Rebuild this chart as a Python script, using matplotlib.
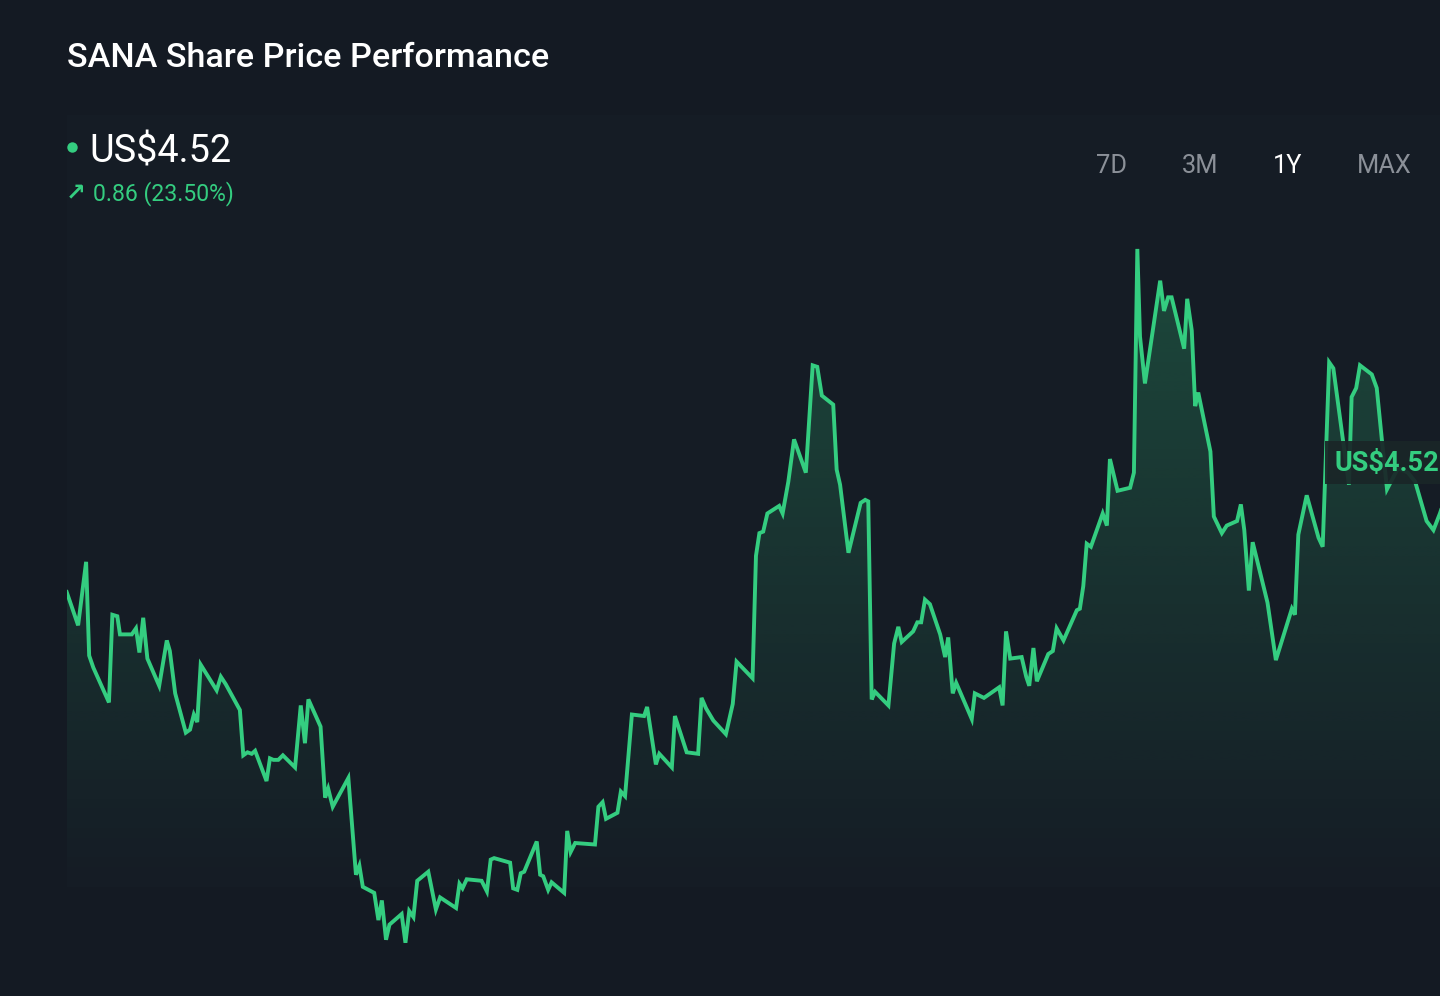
import numpy as np
import matplotlib
matplotlib.use("Agg")
import matplotlib.pyplot as plt
from matplotlib.patches import Rectangle, Polygon

# ---------------- data (trading-day index, price US$) ----------------
day = [0.0, 3.0, 5.1, 5.9, 7.0, 11.1, 12.0, 13.3, 14.0, 17.1, 18.2, 19.1, 20.1, 21.2,
       24.3, 26.3, 27.1, 28.5, 31.3, 32.4, 33.4, 34.3, 35.2, 39.4, 40.5, 41.8, 45.5,
       46.4, 47.5, 48.6, 49.5, 52.5, 53.4, 54.3, 55.6, 56.8, 60.0, 61.5, 62.6, 63.5,
       66.7, 67.9, 68.7, 69.9, 74.0,
       76.0, 76.9, 77.8, 80.8, 81.9, 82.8, 83.9, 84.8, 88.0, 89.0, 90.0, 91.1, 92.1,
       95.0, 97.0, 98.1, 102.3, 103.2, 104.0, 105.1, 109.0, 110.4, 111.4, 112.3, 116.5,
       117.3, 118.4, 119.3, 120.2, 123.5, 124.4, 125.2, 126.5, 127.4, 130.7, 131.5,
       132.4, 133.6, 138.8, 139.7, 140.8, 141.7, 144.7, 145.6, 146.7, 148.5, 151.7, 152.5,
       154.8, 155.7, 159.0, 159.8, 162.9, 165.9, 166.8, 168.0, 169.9, 173.2, 175.0,
       176.0, 180.2, 181.1, 182.0, 183.0, 184.1, 187.2, 188.1, 189.6, 191.1, 194.2,
       196.0, 197.2, 198.4, 201.4, 202.3, 203.2, 205.4, 208.6, 209.8, 210.6, 211.5,
       212.4, 215.9, 217.4, 218.5,
       219.4, 222.4, 223.5, 224.5, 225.5, 226.8, 229.5, 230.8, 231.6, 232.8, 233.7,
       237.8, 238.6, 241.0, 245.0, 245.9, 246.8, 247.9, 250.9, 252.1, 252.9, 254.0,
       254.9, 257.9, 259.1, 260.1, 261.9, 265.4, 266.2, 267.1, 268.0, 269.1, 272.2,
       273.3, 274.1, 276.1, 279.4, 280.4,
       281.3, 282.0, 283.3, 287.3, 288.3, 289.4, 290.3, 293.6, 294.4, 295.6, 296.5,
       297.3, 300.5, 301.4, 303.5, 304.8, 307.5, 308.5, 309.4, 310.6, 311.6, 315.5,
       317.7, 321.9, 322.7, 323.6, 325.8, 328.9, 330.0, 331.7, 332.8, 336.9, 337.6,
       338.8, 339.8, 342.9, 344.2, 345.5, 346.9, 349.8, 352.4, 354.3, 357.3, 359.1,
       360.8, 362.8, 365.0]

price = [3.66, 3.44, 3.86, 3.24, 3.16, 2.93, 3.51, 3.50, 3.38, 3.38, 3.42, 3.26, 3.49, 3.22,
         3.04, 3.34, 3.27, 2.99, 2.73, 2.75, 2.85, 2.80, 3.18, 3.01, 3.10, 3.05, 2.88,
         2.58, 2.60, 2.59, 2.61, 2.41, 2.56, 2.55, 2.55, 2.58, 2.50, 2.91, 2.66, 2.95,
         2.77, 2.30, 2.36, 2.24, 2.43,
         1.79, 1.85, 1.71, 1.67, 1.49, 1.62, 1.36, 1.46, 1.53, 1.34, 1.55, 1.51, 1.75,
         1.81, 1.56, 1.64, 1.57, 1.73, 1.70, 1.76, 1.75, 1.68, 1.89, 1.90, 1.87,
         1.70, 1.69, 1.80, 1.81, 2.01, 1.79, 1.78, 1.69, 1.74, 1.67, 2.08,
         1.94, 2.00, 1.99, 2.24, 2.27, 2.16, 2.20, 2.34, 2.31, 2.85, 2.84, 2.90,
         2.52, 2.59, 2.50, 2.84, 2.60, 2.59, 2.96, 2.89, 2.81, 2.72, 2.92,
         3.20, 3.09, 3.90, 4.05, 4.06, 4.18, 4.23, 4.18, 4.39, 4.67, 4.45,
         5.16, 5.15, 4.96, 4.90, 4.47, 4.37, 3.92, 4.25, 4.27, 4.26, 2.95,
         3.00, 2.91, 3.32, 3.43,
         3.33, 3.40, 3.46, 3.46, 3.61, 3.58, 3.38, 3.23, 3.36, 2.99, 3.06,
         2.82, 2.99, 2.96, 3.03, 2.91, 3.40, 3.22, 3.23, 3.10, 3.04, 3.29,
         3.07, 3.25, 3.27, 3.42, 3.34, 3.54, 3.55, 3.70, 3.98, 3.96, 4.18,
         4.10, 4.54, 4.33, 4.35, 4.45,
         5.93, 5.35, 5.04, 5.72, 5.52, 5.61, 5.61, 5.27, 5.60, 5.39, 4.89,
         4.98, 4.59, 4.16, 4.05, 4.10, 4.13, 4.24, 4.07, 3.67, 3.99, 3.59,
         3.21, 3.55, 3.51, 4.04, 4.30, 4.02, 3.96, 5.18, 5.14, 4.37, 4.95,
         5.01, 5.16, 5.10, 5.01, 4.68, 4.34, 4.48, 4.45, 4.39, 4.13, 4.07,
         4.18, 4.33, 4.52]

title = "SANA Share Price Performance"
last_price_label = "US$4.52"
change_arrow = "\u2197"
change_label = "0.86 (23.50%)"
ranges = ["7D", "3M", "1Y", "MAX"]
selected_range = "1Y"

# ---------------- style ----------------
W, H = 1440, 996
BG = "#141a23"
PANEL = "#151c25"
GREEN = "#34cd80"
GREY = "#8b9098"
FONT = ["Roboto", "DejaVu Sans"]

fig = plt.figure(figsize=(W / 100, H / 100), dpi=100, facecolor=BG)

def fx(x):
    return x / W

def fy(y):
    return 1 - y / H

# background overlay axes in pixel coordinates (for the faint panel)
bg_ax = fig.add_axes([0, 0, 1, 1], zorder=0)
bg_ax.set_xlim(0, W)
bg_ax.set_ylim(H, 0)
bg_ax.axis("off")
bg_ax.add_patch(Rectangle((67, 115), 1440 - 67, 887 - 115, facecolor=PANEL, edgecolor="none"))

# chart axes (pixel geometry of the reference)
left_px, right_px = 66.7, 1455.9
top_px, bot_px = 115, 960
ax = fig.add_axes([fx(left_px), fy(bot_px), (right_px - left_px) / W, (bot_px - top_px) / H],
                  zorder=1)
ax.set_facecolor("none")
ax.set_xlim(0, 365)
ymin, ymax = 1.226, 6.816
ax.set_ylim(ymin, ymax)
ax.axis("off")

x = np.array(day)
y = np.array(price)

# gradient fill under the line
ny = 400
yy = np.linspace(ymin, ymax, ny)
p_zero, p_ref = 1.708, 4.99
alpha = np.clip((yy - p_zero) / (p_ref - p_zero) * 0.20, 0, 0.30)
rgb = matplotlib.colors.to_rgb(GREEN)
img = np.zeros((ny, 2, 4))
img[:, :, 0], img[:, :, 1], img[:, :, 2] = rgb
img[:, :, 3] = alpha[:, None]
im = ax.imshow(img, extent=[0, 365, ymin, ymax], origin="lower", aspect="auto",
               interpolation="bilinear", zorder=1)
poly_xy = np.column_stack([np.concatenate([x, [x[-1], x[0]]]),
                           np.concatenate([y, [ymin, ymin]])])
clip = Polygon(poly_xy, closed=True, transform=ax.transData, facecolor="none", edgecolor="none")
ax.add_patch(clip)
im.set_clip_path(clip)

ax.plot(x, y, color=GREEN, lw=2.8, solid_joinstyle="miter", zorder=3)

# foreground overlay axes (dot, price tag box)
fg_ax = fig.add_axes([0, 0, 1, 1], zorder=2)
fg_ax.set_xlim(0, W)
fg_ax.set_ylim(H, 0)
fg_ax.axis("off")
fg_ax.set_facecolor("none")
fg_ax.plot([72], [147], "o", color=GREEN, ms=7.5, mec="none")
fg_ax.add_patch(Rectangle((1325, 441), 140, 43, facecolor="#1a2628", edgecolor="none",
                          alpha=0.93))
fg_ax.text(1335, 471, last_price_label, color=GREEN, fontsize=19.5, fontweight="bold",
           family=FONT, ha="left", va="baseline")

# ---------------- texts ----------------
fig.text(fx(67), fy(67), title, color="white", fontsize=24.6, fontweight="medium",
         family=FONT, ha="left", va="baseline", zorder=5)
fig.text(fx(89), fy(162), last_price_label, color="white", fontsize=27.3,
         family=FONT, ha="left", va="baseline", zorder=5)
fig.text(fx(66), fy(200), change_arrow, color=GREEN, fontsize=17, fontweight="bold",
         family=["DejaVu Sans"], ha="left", va="baseline", zorder=5)
fig.text(fx(93), fy(200), change_label, color=GREEN, fontsize=16.6,
         family=FONT, ha="left", va="baseline", zorder=5)

btn_x = [1096, 1182, 1273, 1357]
for lbl, bx in zip(ranges, btn_x):
    fig.text(fx(bx), fy(173), lbl, color="white" if lbl == selected_range else GREY,
             fontsize=18.3, family=FONT, ha="left", va="baseline", zorder=5)

fig.savefig("out.png", dpi=100, facecolor=BG)
